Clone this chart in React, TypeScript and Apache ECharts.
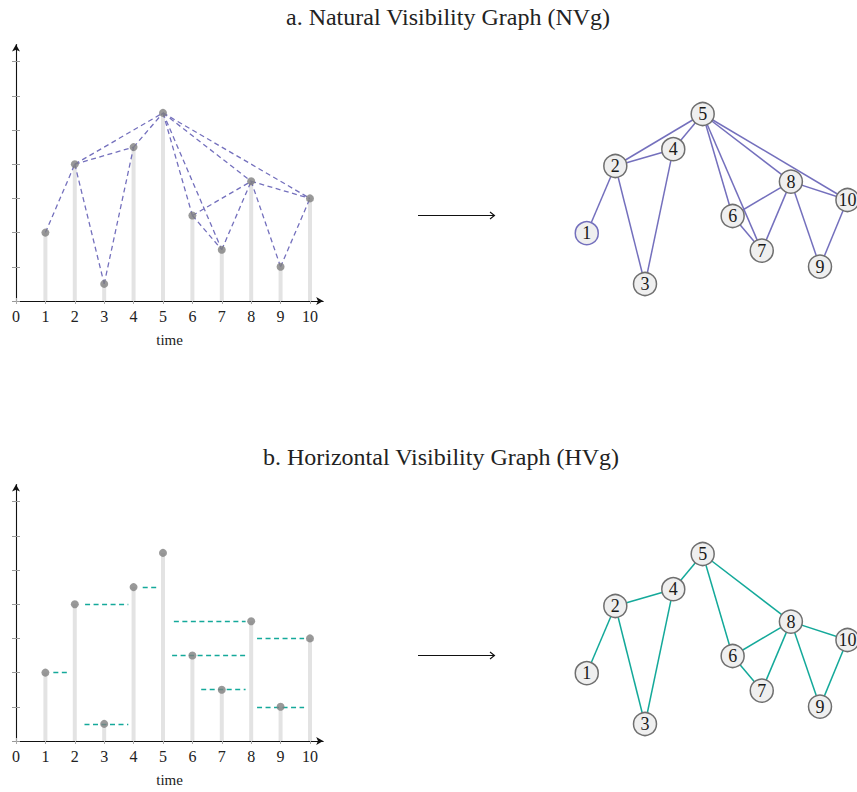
import React, { useEffect, useRef } from 'react';
import * as echarts from 'echarts';

// ---- data ----
const timeSteps = [1, 2, 3, 4, 5, 6, 7, 8, 9, 10];
const seriesValues = [2, 4, 0.5, 4.5, 5.5, 2.5, 1.5, 3.5, 1, 3];
const xTickValues = [0, 1, 2, 3, 4, 5, 6, 7, 8, 9, 10];
const yTickValues = [0, 1, 2, 3, 4, 5, 6, 7];

const nvgEdges: [number, number][] = [
  [1, 2], [2, 3], [2, 4], [2, 5], [3, 4], [4, 5], [5, 6], [5, 7],
  [5, 8], [5, 10], [6, 7], [6, 8], [7, 8], [8, 9], [8, 10], [9, 10],
];
const hvgEdges: [number, number][] = [
  [1, 2], [2, 3], [2, 4], [3, 4], [4, 5], [5, 6], [5, 8], [6, 7],
  [6, 8], [7, 8], [8, 9], [8, 10], [9, 10],
];
// horizontal visibility rays (level, start, end) in time units
const hvgRayLevel = [2, 4, 0.5, 4.5, 3.5, 2.5, 1.5, 3, 1];
const hvgRayStart = [1.27, 2.35, 2.33, 4.31, 5.37, 5.31, 6.3, 8.2, 8.2];
const hvgRayEnd = [1.81, 3.82, 3.82, 4.78, 7.81, 7.81, 7.81, 9.8, 9.8];

// network node layout (abstract layout units, 0..10)
const nodeLayoutX = [0.42, 1.44, 2.5, 3.51, 4.56, 5.63, 6.67, 7.71, 8.75, 9.73];
const nodeLayoutY = [3.34, 6.7, 0.8, 7.54, 9.3, 4.2, 2.47, 5.92, 1.67, 5.0];

const titles = ['a. Natural Visibility Graph (NVg)', 'b. Horizontal Visibility Graph (HVg)'];

const NV_COLOR = '#7470bd';
const HV_COLOR = '#14a99a';
const SERIF = 'Liberation Serif';

export default function App() {
  const ref = useRef<HTMLDivElement>(null);
  useEffect(() => {
    if (!ref.current) return;
    const chart = echarts.init(ref.current, undefined, { renderer: 'svg' });
    const panelOffsets = [0, 440];
    const titleCenters = [448, 441];
    const grids: any[] = [];
    const xAxes: any[] = [];
    const yAxes: any[] = [];
    const series: any[] = [];
    const graphics: any[] = [];

    const stemPoints = timeSteps.map((t, i) => [t, seriesValues[i]]);

    panelOffsets.forEach((off, p) => {
      const gStem = grids.length;
      grids.push({ left: 16, top: off + 44.5, width: 307.2, height: 256.5 });
      const gNet = grids.length;
      grids.push({ left: 575, top: off + 100, width: 280, height: 200 });

      const xMain = xAxes.length;
      xAxes.push({
        type: 'value', gridIndex: gStem, min: 0, max: 10.45, interval: 1,
        axisLine: { show: true, lineStyle: { color: '#111', width: 1.1 }, symbol: ['none', 'arrow'], symbolSize: [6, 7] },
        axisTick: { show: true, length: 3, lineStyle: { color: '#aaa' }, customValues: xTickValues },
        axisLabel: { customValues: xTickValues, fontFamily: SERIF, fontSize: 16, color: '#222', margin: 7 },
        splitLine: { show: false },
        name: 'time', nameLocation: 'middle', nameGap: 31,
        nameTextStyle: { fontFamily: SERIF, fontSize: 15, color: '#222' },
      });
      xAxes.push({
        type: 'value', gridIndex: gStem, min: 0, max: 10.45, interval: 1, position: 'bottom',
        axisLine: { show: false }, axisLabel: { show: false }, splitLine: { show: false },
        axisTick: { show: true, inside: true, length: 3, lineStyle: { color: '#aaa' }, customValues: xTickValues },
      });
      const yMain = yAxes.length;
      yAxes.push({
        type: 'value', gridIndex: gStem, min: 0, max: 7.5, interval: 1, position: 'left',
        axisLine: { show: true, lineStyle: { color: '#111', width: 1.1 }, symbol: ['none', 'arrow'], symbolSize: [6, 7] },
        axisTick: { show: true, length: 4, lineStyle: { color: '#999' }, customValues: yTickValues },
        axisLabel: { show: false }, splitLine: { show: false },
      });
      yAxes.push({
        type: 'value', gridIndex: gStem, min: 0, max: 7.5, interval: 1, position: 'left',
        axisLine: { show: false }, axisLabel: { show: false }, splitLine: { show: false },
        axisTick: { show: true, inside: true, length: 4, lineStyle: { color: '#999' }, customValues: yTickValues },
      });
      const xNet = xAxes.length;
      xAxes.push({ type: 'value', gridIndex: gNet, min: 0, max: 10, show: false });
      const yNet = yAxes.length;
      yAxes.push({ type: 'value', gridIndex: gNet, min: 0, max: 10, show: false });

      const color = p === 0 ? NV_COLOR : HV_COLOR;
      const edges = p === 0 ? nvgEdges : hvgEdges;

      series.push({
        type: 'bar', xAxisIndex: xMain, yAxisIndex: yMain, data: stemPoints,
        barWidth: 4, itemStyle: { color: '#e3e3e3' }, z: 1, silent: true,
      });

      let dashData: any[];
      if (p === 0) {
        dashData = nvgEdges.map(([a, b]) => ({
          coords: [[a, seriesValues[a - 1]], [b, seriesValues[b - 1]]],
        }));
      } else {
        dashData = hvgRayLevel.map((lv, i) => ({
          coords: [[hvgRayStart[i], lv], [hvgRayEnd[i], lv]],
        }));
      }
      series.push({
        type: 'lines', coordinateSystem: 'cartesian2d', xAxisIndex: xMain, yAxisIndex: yMain,
        data: dashData, symbol: 'none', silent: true, z: 2,
        lineStyle: { color, width: 1.3, type: [5, 3.5], opacity: 1 },
      });
      series.push({
        type: 'scatter', xAxisIndex: xMain, yAxisIndex: yMain, data: stemPoints,
        symbolSize: 8, itemStyle: { color: '#7f7f7f' }, z: 3, silent: true,
      });

      series.push({
        type: 'graph', coordinateSystem: 'cartesian2d', xAxisIndex: xNet, yAxisIndex: yNet,
        layout: 'none', symbol: 'circle', symbolSize: 23, silent: true,
        data: timeSteps.map((t, i) => ({
          name: String(t),
          value: [nodeLayoutX[i], nodeLayoutY[i]],
          itemStyle: {
            color: '#efefef',
            borderColor: p === 0 && t === 1 ? NV_COLOR : '#6f6f6f',
            borderWidth: 1.5,
          },
        })),
        links: edges.map(([a, b]) => ({ source: a - 1, target: b - 1 })),
        lineStyle: { color, width: 1.5, opacity: 1, curveness: 0 },
        label: {
          show: true, position: 'inside', formatter: '{b}',
          fontFamily: SERIF, fontSize: 18, color: '#1a1a1a',
        },
        z: 4,
      });

      graphics.push({
        type: 'text', x: titleCenters[p], y: off + 17,
        style: { text: titles[p], fontFamily: SERIF, fontSize: 24, fill: '#222', textAlign: 'center', textVerticalAlign: 'middle' },
      });
      graphics.push({
        type: 'line', shape: { x1: 418, y1: off + 215.5, x2: 494, y2: off + 215.5 },
        style: { stroke: '#111', lineWidth: 1.2 },
      });
      graphics.push({
        type: 'polyline', shape: { points: [[490, off + 212], [494.5, off + 215.5], [490, off + 219]] },
        style: { stroke: '#111', lineWidth: 1.1, fill: 'none' },
      });
    });

    chart.setOption({
      animation: false,
      backgroundColor: '#ffffff',
      grid: grids,
      xAxis: xAxes,
      yAxis: yAxes,
      series,
      graphic: graphics,
    });
    return () => chart.dispose();
  }, []);
  return <div ref={ref} style={{ position: 'fixed', left: 0, top: 0, width: 857, height: 792 }} />;
}
